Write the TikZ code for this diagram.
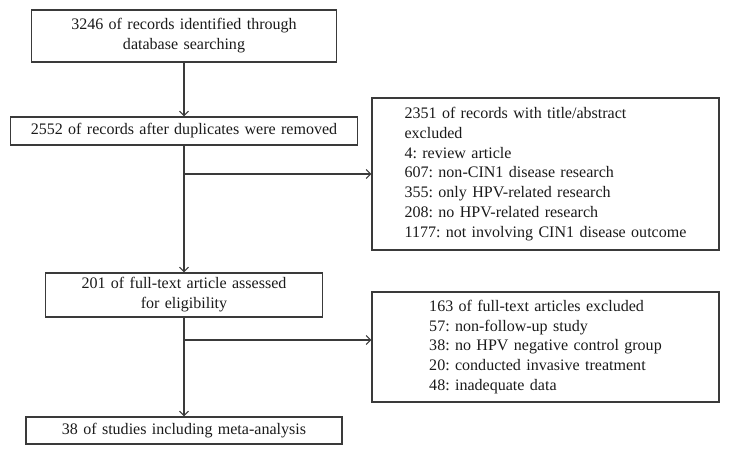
\documentclass[tikz,border=0pt]{standalone}
\usepackage{fontspec}
\setmainfont{Liberation Serif}
\usetikzlibrary{arrows.meta}
\definecolor{linegray}{HTML}{3A3A3A}
\definecolor{txt}{HTML}{1A1A1A}
\tikzset{
  box/.style={draw=linegray, line width=1.2bp, inner sep=0pt, text=txt,
    font=\fontsize{16.1}{20}\selectfont, align=center},
  conn/.style={draw=linegray, line width=1.2bp},
  arr/.style={conn, -{Straight Barb[length=4.5bp,width=9bp,line width=1bp]}}
}
\newcommand{\leftblock}[1]{\begin{tabular}{@{}l@{}}#1\end{tabular}}
\begin{document}
\frenchspacing
\begin{tikzpicture}[x=1bp,y=-1bp]
\useasboundingbox (0,0) rectangle (729,455);
\node[box, text width=305bp, minimum height=52bp] (b1) at (184,36)
  {3246 of records identified through\\database searching};
\node[box, text width=347bp, minimum height=28bp] (b2) at (184,131)
  {2552 of records after duplicates were removed};
\node[box, text width=347bp, minimum height=152bp] (b3) at (545.5,174)
  {\leftblock{2351 of records with title/abstract\\excluded\\4: review article\\607: non-CIN1 disease research\\355: only HPV-related research\\208: no HPV-related research\\1177: not involving CIN1 disease outcome}};
\node[box, text width=277bp, minimum height=44bp] (b4) at (184,295)
  {201 of full-text article assessed\\for eligibility};
\node[box, text width=347bp, minimum height=110bp] (b5) at (545.5,347)
  {\leftblock{163 of full-text articles excluded\\57: non-follow-up study\\38: no HPV negative control group\\20: conducted invasive treatment\\48: inadequate data}};
\node[box, text width=316bp, minimum height=27bp] (b6) at (184,430.5)
  {38 of studies including meta-analysis};
\coordinate (j1) at (184,174);
\coordinate (j2) at (184,340);
\draw[arr] (b1.south) -- (b2.north);
\draw[arr] (b2.south) -- (b4.north);
\draw[arr] (j1) -- (j1 -| b3.west);
\draw[arr] (b4.south) -- (b6.north);
\draw[arr] (j2) -- (j2 -| b5.west);
\end{tikzpicture}
\end{document}
